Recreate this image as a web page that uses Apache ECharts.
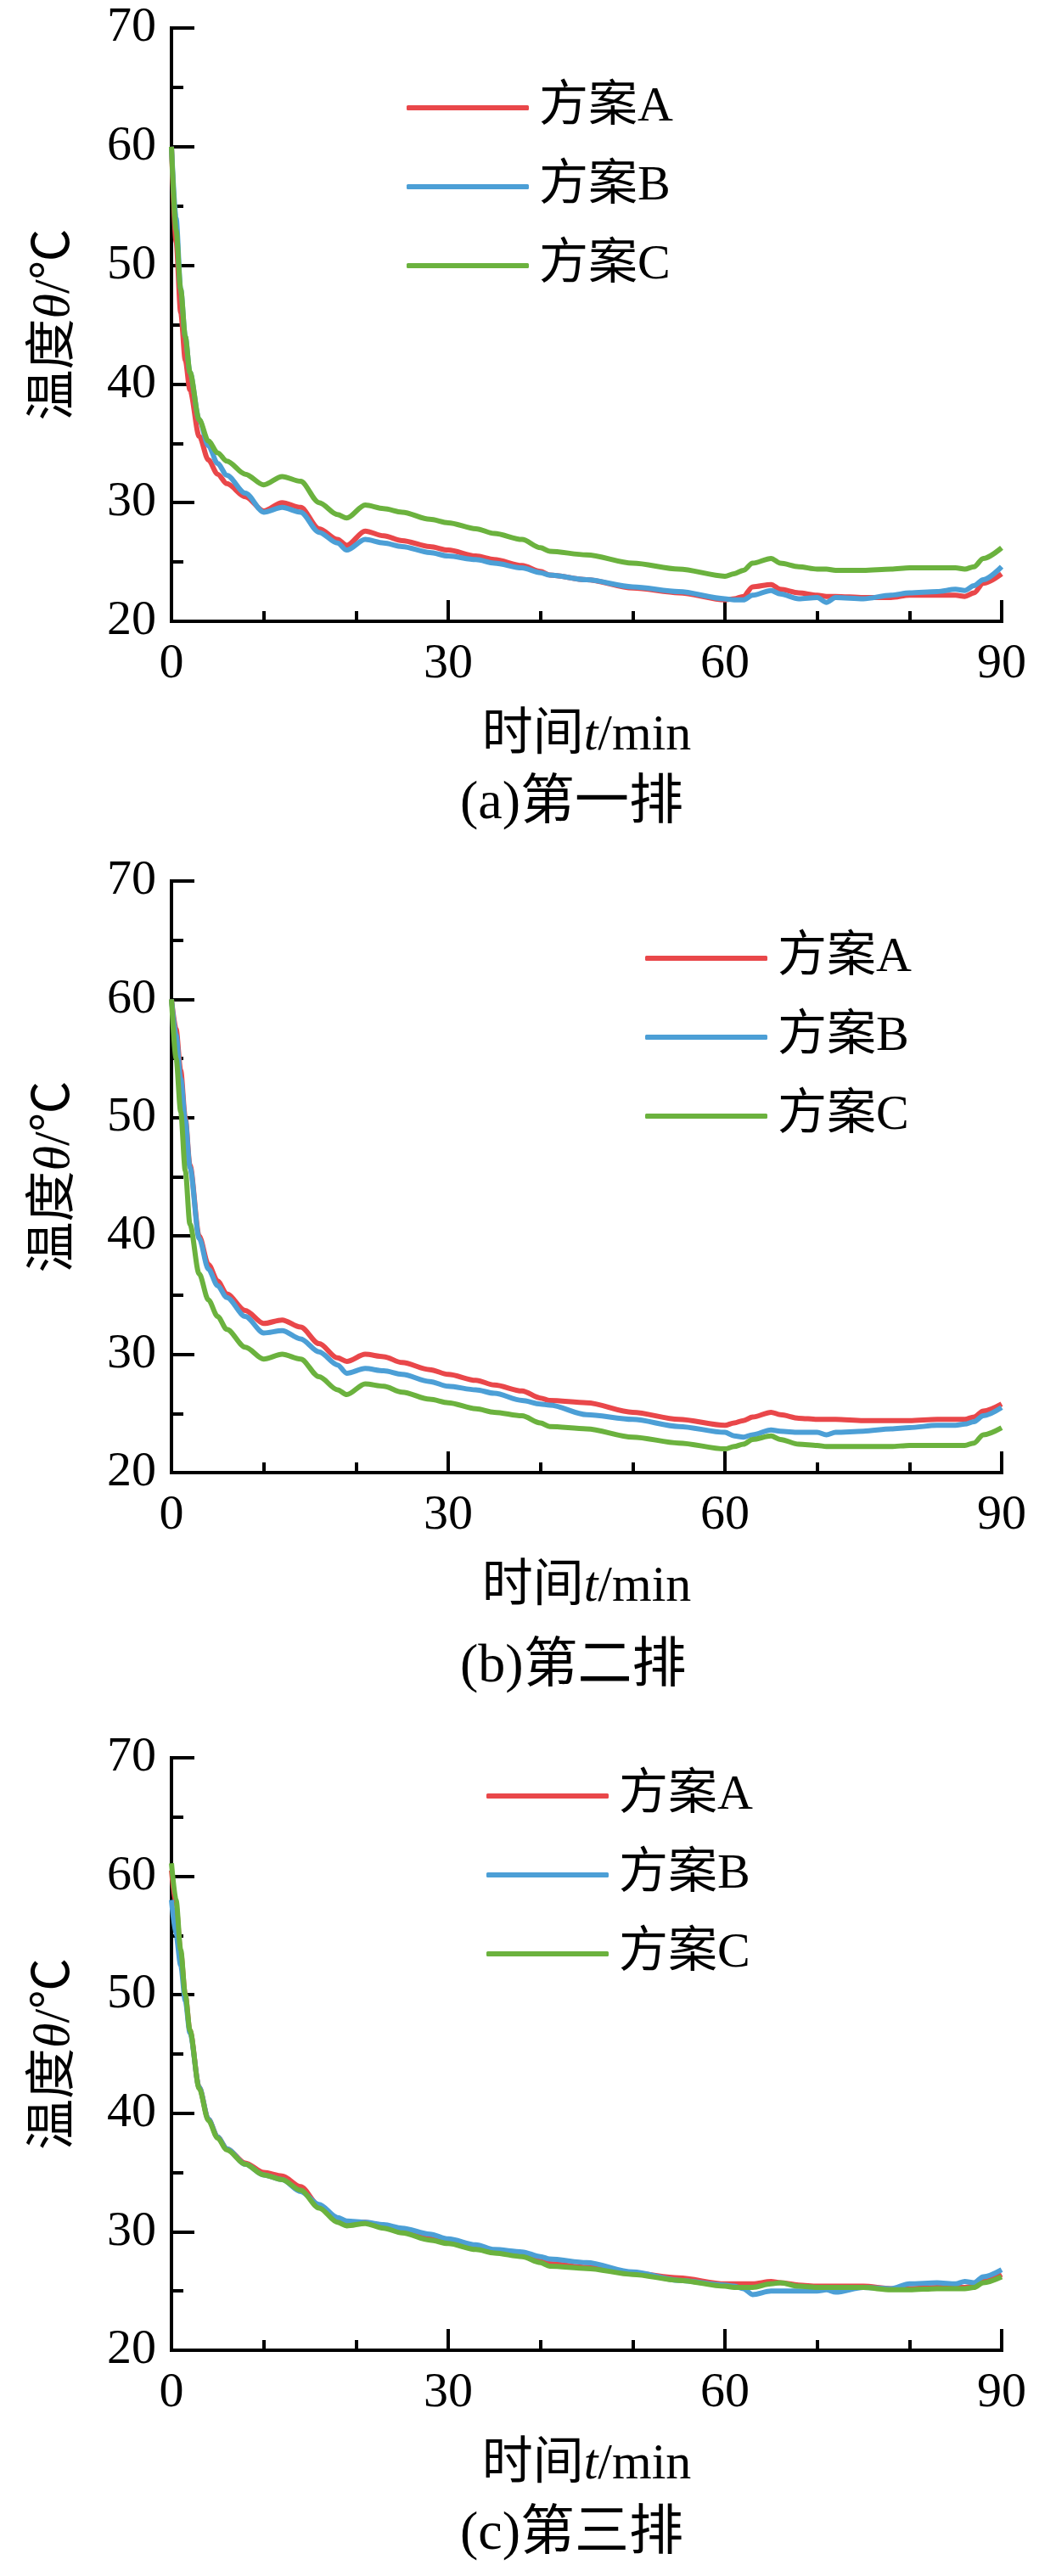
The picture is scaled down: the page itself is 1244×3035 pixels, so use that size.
<!DOCTYPE html>
<html>
  <head>
    <meta charset="utf-8" />
    <title>温度曲线</title>
    <script src="https://cdn.jsdelivr.net/npm/echarts@6/dist/echarts.min.js"></script>
    <style>
      html, body { margin: 0; padding: 0; background: #fff; }
      #main { width: 1244px; height: 3035px; }
    </style>
  </head>
  <body>
    <div id="main"></div>

    <script type="text/javascript">
      // 时间 t/min（三幅图共用）
      var minutes = [0, 0.5, 1, 1.5, 2, 3, 4, 5, 6, 8, 10, 12, 14, 16, 18, 19, 21, 23, 25, 28,
        30, 33, 35, 38, 40, 41, 45, 50, 55, 60, 61, 62, 63, 65, 66, 68, 70, 71, 72, 75,
        78, 80, 83, 85, 86, 87, 88, 90];

      var schemeNames = ["方案A", "方案B", "方案C"];
      var panelTitles = ["(a)第一排", "(b)第二排", "(c)第三排"];

      // (a) 第一排
      var row1A = [60, 52, 46, 42, 39.5, 35.6, 33.6, 32.4, 31.6, 30.5, 29.3, 30.0, 29.6, 27.8, 26.9, 26.4, 27.6, 27.2, 26.8, 26.3,
        26.0, 25.5, 25.2, 24.7, 24.2, 23.9, 23.5, 22.8, 22.4, 21.8, 21.9, 22.1, 22.9, 23.1, 22.7, 22.4, 22.2, 22.1, 22.1, 22.0,
        22.0, 22.2, 22.2, 22.2, 22.1, 22.4, 23.2, 24.0];
      var row1B = [60, 54, 48, 44, 41, 37, 34.8, 33.3, 32.3, 30.8, 29.2, 29.6, 29.2, 27.5, 26.6, 26.0, 26.9, 26.6, 26.3, 25.8,
        25.5, 25.2, 24.9, 24.5, 24.1, 23.9, 23.5, 22.9, 22.5, 21.9, 21.8, 21.8, 22.2, 22.6, 22.3, 21.9, 22.0, 21.6, 22.0, 21.9,
        22.2, 22.4, 22.5, 22.7, 22.6, 23.0, 23.5, 24.6];
      var row1C = [60, 53, 48, 44, 41, 37, 35.2, 34.2, 33.5, 32.4, 31.5, 32.2, 31.8, 30.0, 29.0, 28.7, 29.8, 29.5, 29.2, 28.6,
        28.3, 27.8, 27.4, 26.9, 26.2, 25.9, 25.6, 24.9, 24.4, 23.8, 24.0, 24.3, 24.9, 25.3, 24.9, 24.6, 24.4, 24.4, 24.3, 24.3,
        24.4, 24.5, 24.5, 24.5, 24.4, 24.6, 25.3, 26.2];

      // (b) 第二排
      var row2A = [60, 57.5, 54, 50, 46, 40, 37.6, 36.2, 35.1, 33.7, 32.6, 32.9, 32.3, 30.9, 29.7, 29.4, 30.0, 29.8, 29.3, 28.7,
        28.3, 27.8, 27.4, 26.9, 26.3, 26.1, 25.9, 25.1, 24.5, 24.0, 24.2, 24.4, 24.7, 25.1, 24.9, 24.6, 24.5, 24.5, 24.5, 24.4,
        24.4, 24.4, 24.5, 24.5, 24.5, 24.7, 25.2, 25.8];
      var row2B = [60, 57, 53.3, 49.8, 45.8, 39.8, 37.2, 35.8, 34.8, 33.2, 31.8, 32.0, 31.3, 30.2, 29.1, 28.4, 28.8, 28.6, 28.3, 27.7,
        27.3, 27.0, 26.7, 26.1, 25.8, 25.7, 24.9, 24.5, 23.9, 23.4, 23.1, 23.0, 23.2, 23.6, 23.5, 23.4, 23.4, 23.2, 23.4, 23.5,
        23.7, 23.8, 24.0, 24.0, 24.1, 24.3, 24.8, 25.5];
      var row2C = [60, 55, 50.5, 45.5, 41, 36.8, 34.6, 33.2, 32.1, 30.6, 29.6, 30.0, 29.6, 28.1, 27.0, 26.6, 27.5, 27.3, 26.8, 26.2,
        25.9, 25.4, 25.1, 24.8, 24.2, 23.9, 23.7, 23.0, 22.5, 22.0, 22.2, 22.4, 22.8, 23.1, 22.8, 22.4, 22.3, 22.2, 22.2, 22.2,
        22.2, 22.3, 22.3, 22.3, 22.3, 22.5, 23.2, 23.8];

      // (c) 第三排
      var row3A = [60.5, 57.5, 53.6, 50, 47, 42.2, 39.5, 38.0, 37.0, 35.8, 35.0, 34.7, 33.8, 32.2, 31.0, 30.8, 30.8, 30.4, 30.0, 29.4,
        29.1, 28.6, 28.3, 28.0, 27.5, 27.3, 27.0, 26.5, 26.1, 25.6, 25.6, 25.6, 25.6, 25.8, 25.7, 25.5, 25.4, 25.4, 25.4, 25.4,
        25.2, 25.2, 25.3, 25.3, 25.3, 25.4, 25.8, 26.4];
      var row3B = [58, 55, 52.5, 49.5, 46.8, 42.2, 39.5, 38.0, 37.0, 35.7, 34.8, 34.4, 33.4, 32.3, 31.2, 30.9, 30.8, 30.6, 30.3, 29.8,
        29.4, 28.9, 28.5, 28.3, 27.9, 27.7, 27.4, 26.6, 25.9, 25.5, 25.4, 25.2, 24.7, 25.0, 25.0, 25.0, 25.0, 25.1, 24.9, 25.3,
        25.2, 25.6, 25.7, 25.6, 25.8, 25.7, 26.2, 26.8];
      var row3C = [61.1, 58, 53.8, 50, 47, 42.1, 39.4, 37.9, 36.9, 35.7, 34.8, 34.4, 33.5, 32.0, 30.8, 30.5, 30.7, 30.3, 29.9, 29.3,
        29.0, 28.5, 28.2, 27.9, 27.4, 27.1, 26.9, 26.4, 25.9, 25.4, 25.3, 25.3, 25.3, 25.6, 25.7, 25.4, 25.3, 25.3, 25.3, 25.3,
        25.1, 25.1, 25.2, 25.2, 25.2, 25.3, 25.7, 26.2];

      var rows = [
        [row1A, row1B, row1C],
        [row2A, row2B, row2C],
        [row3A, row3B, row3C],
      ];

      var colors = ["#e9474a", "#4c9fd6", "#6bb23e"];
      var latin = "'Liberation Serif', 'Times New Roman', 'Noto Sans CJK SC', serif";

      // 每幅图的位置
      var gridTops = [33, 1038, 2071];
      var gridHeights = [699, 697, 698];
      var legendPos = [
        { left: 479, top: 97 },
        { left: 760, top: 1099 },
        { left: 573, top: 2086 },
      ];
      var titleCenters = [947, 1964, 2986];

      var axisLineStyle = { color: "#000", width: 4, cap: "square" };

      var option = {
        animation: false,
        backgroundColor: "#fff",
        color: colors,
        title: [],
        legend: [],
        grid: [],
        xAxis: [],
        yAxis: [],
        series: [],
      };

      for (var p = 0; p < 3; p++) {
        option.grid.push({
          left: 202,
          width: 978,
          top: gridTops[p],
          height: gridHeights[p],
          containLabel: false,
        });

        option.xAxis.push({
          type: "value",
          gridIndex: p,
          min: 0,
          max: 90,
          interval: 30,
          name: "{a|时间}{i|t}{a|/min}",
          nameLocation: "middle",
          nameGap: 105,
          nameTextStyle: {
            rich: {
              a: { fontSize: 60, fontFamily: latin, color: "#000" },
              i: { fontSize: 60, fontFamily: latin, fontStyle: "italic", color: "#000" },
            },
          },
          axisLine: { show: true, lineStyle: axisLineStyle },
          axisTick: { show: true, inside: true, length: 25, lineStyle: { color: "#000", width: 4 } },
          minorTick: { show: true, splitNumber: 3, length: 12, lineStyle: { color: "#000", width: 4 } },
          splitLine: { show: false },
          minorSplitLine: { show: false },
          axisLabel: { fontSize: 58, fontFamily: latin, color: "#000", margin: 22 },
        });

        option.yAxis.push({
          type: "value",
          gridIndex: p,
          min: 20,
          max: 70,
          interval: 10,
          name: "{a|温度}{i|θ}{a|/℃}",
          nameLocation: "middle",
          nameGap: 107,
          nameTextStyle: {
            rich: {
              a: { fontSize: 60, fontFamily: latin, color: "#000" },
              i: { fontSize: 60, fontFamily: latin, fontStyle: "italic", color: "#000" },
            },
          },
          axisLine: { show: true, lineStyle: axisLineStyle },
          axisTick: { show: true, inside: true, length: 27, lineStyle: { color: "#000", width: 4 } },
          minorTick: { show: true, splitNumber: 2, length: 14, lineStyle: { color: "#000", width: 4 } },
          splitLine: { show: false },
          minorSplitLine: { show: false },
          axisLabel: { fontSize: 58, fontFamily: latin, color: "#000", margin: 18 },
        });

        option.legend.push({
          orient: "vertical",
          left: legendPos[p].left,
          top: legendPos[p].top,
          padding: 0,
          itemWidth: 144,
          itemHeight: 6,
          itemGap: 33,
          icon: "roundRect",
          selectedMode: false,
          data: schemeNames,
          textStyle: {
            fontSize: 58,
            lineHeight: 60,
            fontFamily: latin,
            color: "#000",
            padding: [0, 0, 0, 7],
          },
        });

        option.title.push({
          text: panelTitles[p],
          left: 542,
          top: titleCenters[p] - 32,
          padding: 0,
          textStyle: {
            fontSize: 64,
            lineHeight: 64,
            fontWeight: "normal",
            fontFamily: latin,
            color: "#000",
          },
        });

        for (var s = 0; s < 3; s++) {
          var vals = rows[p][s];
          option.series.push({
            name: schemeNames[s],
            type: "line",
            xAxisIndex: p,
            yAxisIndex: p,
            symbol: "none",
            showSymbol: false,
            smooth: 0.3,
            smoothMonotone: "x",
            lineStyle: { width: 6, color: colors[s] },
            itemStyle: { color: colors[s] },
            data: minutes.map(function (t, i) {
              return [t, vals[i]];
            }),
          });
        }
      }

      var myChart = echarts.init(document.getElementById("main"));
      myChart.setOption(option);
    </script>
  </body>
</html>
